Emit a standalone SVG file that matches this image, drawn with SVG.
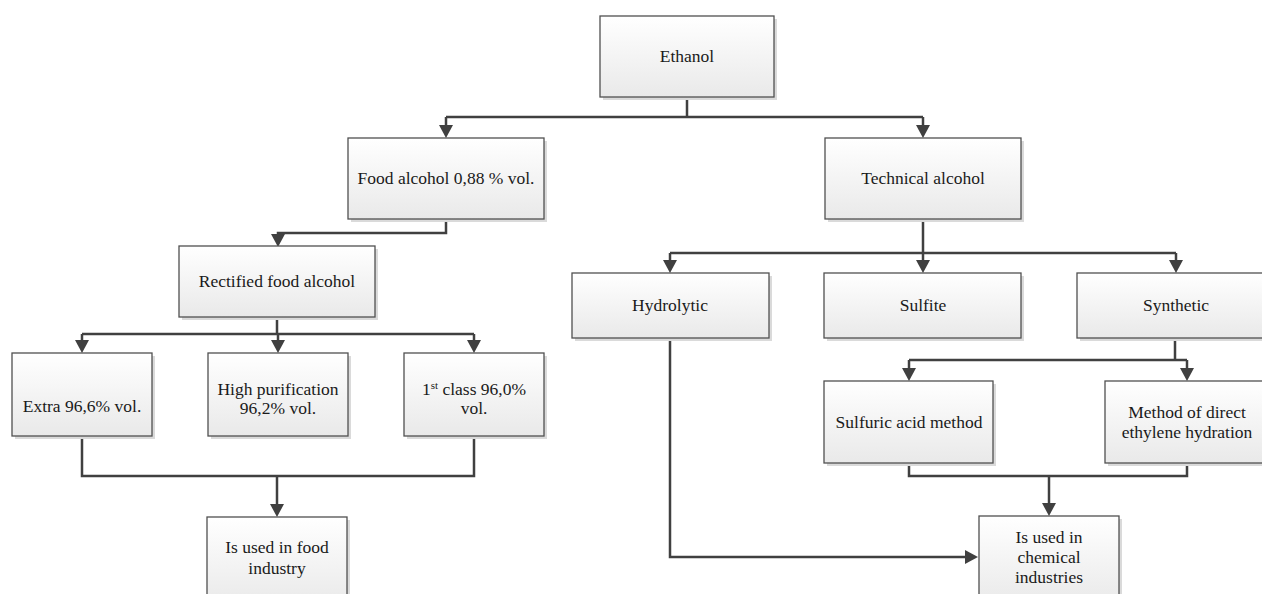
<svg xmlns="http://www.w3.org/2000/svg" width="1262" height="594" viewBox="0 0 1262 594">
<defs>
<linearGradient id="g" x1="0" y1="0" x2="0" y2="1">
<stop offset="0" stop-color="#ffffff"/>
<stop offset="1" stop-color="#e9e9e9"/>
</linearGradient>
<marker id="ah" markerUnits="userSpaceOnUse" markerWidth="13" markerHeight="14" viewBox="0 0 13 14" refX="0" refY="7" orient="auto">
<path d="M0,0 L13,7 L0,14 z" fill="#404040"/>
</marker>
<style>
.sh{fill:#dadada}
.bx{fill:url(#g);stroke:#505050;stroke-width:1.3}
.t{font-family:"Liberation Serif","Times New Roman",serif;font-size:17.5px;fill:#1a1a1a;text-anchor:middle}
.c{fill:none;stroke:#404040;stroke-width:2.5}
.a{marker-end:url(#ah)}
</style>
</defs>
<rect width="1262" height="594" fill="#ffffff"/>
<g id="connectors">
<path class="c" d="M687,97 V117 M446,117 H923"/>
<path class="c a" d="M446,117 V125"/>
<path class="c a" d="M923,117 V125"/>
<path class="c a" d="M446,219 V233 H278 V234"/>
<path class="c" d="M277,317 V334 M82,334 H474"/>
<path class="c a" d="M82,334 V340"/>
<path class="c a" d="M278,334 V340"/>
<path class="c a" d="M474,334 V340"/>
<path class="c" d="M82,436 V476 H474 V436"/>
<path class="c a" d="M277,476 V504"/>
<path class="c" d="M923,219 V253 M670,253 H1176"/>
<path class="c a" d="M670,253 V260"/>
<path class="c a" d="M923,253 V260"/>
<path class="c a" d="M1176,253 V260"/>
<path class="c" d="M1175,338 V360 M909,360 H1187"/>
<path class="c a" d="M909,360 V368"/>
<path class="c a" d="M1187,360 V368"/>
<path class="c" d="M909,463 V476 H1187 V463"/>
<path class="c a" d="M1049,476 V503"/>
<path class="c a" d="M670,338 V557 H965"/>
</g>
<g id="ethanol">
<rect class="sh" x="603" y="19" width="174" height="81"/>
<rect class="bx" x="600" y="16" width="174" height="81"/>
<text class="t" x="687" y="62">Ethanol</text>
</g>
<g id="food-alcohol">
<rect class="sh" x="351" y="141" width="196" height="81"/>
<rect class="bx" x="348" y="138" width="196" height="81"/>
<text class="t" x="446" y="184">Food alcohol 0,88 % vol.</text>
</g>
<g id="technical-alcohol">
<rect class="sh" x="828" y="141" width="196" height="81"/>
<rect class="bx" x="825" y="138" width="196" height="81"/>
<text class="t" x="923" y="184">Technical alcohol</text>
</g>
<g id="rectified">
<rect class="sh" x="182" y="249" width="196" height="71"/>
<rect class="bx" x="179" y="246" width="196" height="71"/>
<text class="t" x="277" y="287">Rectified food alcohol</text>
</g>
<g id="extra">
<rect class="sh" x="15" y="356" width="140" height="83"/>
<rect class="bx" x="12" y="353" width="140" height="83"/>
<text class="t" x="82" y="412">Extra 96,6% vol.</text>
</g>
<g id="high-purification">
<rect class="sh" x="211" y="356" width="140" height="83"/>
<rect class="bx" x="208" y="353" width="140" height="83"/>
<text class="t" x="278" y="395">High purification</text>
<text class="t" x="278" y="414">96,2% vol.</text>
</g>
<g id="first-class">
<rect class="sh" x="407" y="356" width="140" height="83"/>
<rect class="bx" x="404" y="353" width="140" height="83"/>
<text class="t" x="474" y="395">1<tspan font-size="11" dy="-6">st</tspan><tspan dy="6"> class 96,0%</tspan></text>
<text class="t" x="474" y="414">vol.</text>
</g>
<g id="food-industry">
<rect class="sh" x="210" y="520" width="140" height="90"/>
<rect class="bx" x="207" y="517" width="140" height="90"/>
<text class="t" x="277" y="553">Is used in food</text>
<text class="t" x="277" y="574">industry</text>
</g>
<g id="hydrolytic">
<rect class="sh" x="575" y="276" width="197" height="65"/>
<rect class="bx" x="572" y="273" width="197" height="65"/>
<text class="t" x="670" y="311">Hydrolytic</text>
</g>
<g id="sulfite">
<rect class="sh" x="827" y="276" width="197" height="65"/>
<rect class="bx" x="824" y="273" width="197" height="65"/>
<text class="t" x="923" y="311">Sulfite</text>
</g>
<g id="synthetic">
<rect class="sh" x="1080" y="276" width="197" height="65"/>
<rect class="bx" x="1077" y="273" width="197" height="65"/>
<text class="t" x="1176" y="311">Synthetic</text>
</g>
<g id="sulfuric">
<rect class="sh" x="827" y="384" width="169" height="82"/>
<rect class="bx" x="824" y="381" width="169" height="82"/>
<text class="t" x="909" y="428">Sulfuric acid method</text>
</g>
<g id="direct-hydration">
<rect class="sh" x="1108" y="384" width="164" height="82"/>
<rect class="bx" x="1105" y="381" width="164" height="82"/>
<text class="t" x="1187" y="418">Method of direct</text>
<text class="t" x="1187" y="438">ethylene hydration</text>
</g>
<g id="chemical-industries">
<rect class="sh" x="982" y="519" width="140" height="90"/>
<rect class="bx" x="979" y="516" width="140" height="90"/>
<text class="t" x="1049" y="543">Is used in</text>
<text class="t" x="1049" y="563">chemical</text>
<text class="t" x="1049" y="583">industries</text>
</g>
</svg>
